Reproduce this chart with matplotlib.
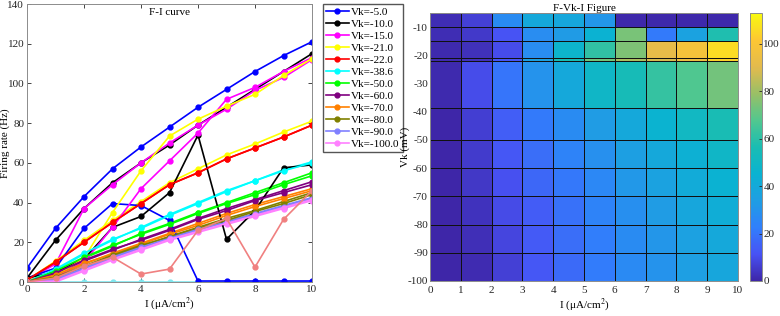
import numpy as np
import matplotlib
matplotlib.use("Agg")
import matplotlib.pyplot as plt
from matplotlib.colors import LinearSegmentedColormap

plt.rcParams['font.family'] = ['Liberation Serif', 'DejaVu Serif']
plt.rcParams['mathtext.fontset'] = 'stix'
plt.rcParams['axes.unicode_minus'] = False

# stimulus current (uA/cm^2) and Vk values (mV)
current = [0, 1, 2, 3, 4, 5, 6, 7, 8, 9, 10]
vk_values = [-5.0, -10.0, -15.0, -21.0, -22.0, -38.6, -50.0, -60.0, -70.0, -80.0, -90.0, -100.0]
line_colors = ['#0000ff', '#000000', '#ff00ff', '#ffff00', '#ff0000', '#00ffff',
               '#00ff00', '#800080', '#ff8000', '#808000', '#8080ff', '#ff80ff']

# first run (shown in legend)
rate_a_m5 = [7, 27, 43, 57, 68, 78, 88, 97, 106, 114, 121]
rate_a_m10 = [2, 21, 37, 50, 60, 69, 79, 88, 97, 106, 115]
rate_a_m15 = [1, 9, 37, 49, 60, 70, 79, 87, 96.5, 103, 112]
rate_a_m21 = [1, 10.5, 21, 31, 40.5, 50, 57, 64, 69.5, 75.5, 81]
rate_a_m22 = [1, 10, 20, 30, 39.5, 49, 55, 62, 67.5, 73, 79]
rate_a_m38 = [0, 6, 14, 21, 27.5, 34, 40, 46, 51, 56.5, 60.5]
rate_a_m50 = [0, 5, 12, 18, 24.5, 29.5, 35, 40, 45, 50, 55]
rate_a_m60 = [0, 4, 10.5, 16, 21.5, 26.5, 32, 37, 41.5, 46, 50.5]
rate_a_m70 = [0, 3, 9, 14.5, 19.5, 24.5, 29.5, 34.5, 39, 43, 47]
rate_a_m80 = [0, 2, 7.5, 13, 18, 23, 27.5, 32, 36, 40.5, 45]
rate_a_m90 = [0, 1, 6.5, 12, 17, 21.5, 26, 30.5, 34.5, 38.5, 42.5]
rate_a_m100 = [0, 0, 5.5, 11, 16, 21, 25, 29, 33, 37, 41]

# second run (used for the F-Vk-I map)
rate_b_m5 = [2, 7, 27, 39.5, 38.5, 31, 0.5, 0.5, 0.5, 0.5, 0.5]
rate_b_m10 = [2, 5, 11.5, 27.5, 33, 45, 74, 21.5, 36, 57.5, 59]
rate_b_m15 = [1, 3, 10, 27.5, 47, 61, 75, 92, 98, 106, 113]
rate_b_m21 = [1, 3, 12, 35, 56, 73.5, 82, 88.5, 94.5, 104, 112.5]
rate_b_m22 = [1, 10, 20, 30, 39.5, 49, 55, 62, 67.5, 73, 79]
rate_b_m38 = [0, 6.5, 14.5, 21.5, 27, 33.5, 39.5, 45.5, 51, 56, 60]
rate_b_m50 = [0, 5.5, 12.5, 18.5, 24, 29, 34.5, 39.5, 44, 49, 53.5]
rate_b_m60 = [0, 4.5, 11, 16.5, 21, 26, 31.5, 36, 41, 45, 49]
rate_b_m70 = [0, 3.5, 9.5, 14, 19, 24, 28.5, 33.5, 38, 42, 46]
rate_b_m80 = [0, 2.5, 8, 13.5, 18.5, 22.5, 27, 31, 35.5, 39.5, 44]
rate_b_m90 = [0, 1.5, 7, 12.5, 17.5, 22, 26.5, 30, 34, 38, 42]
rate_b_m100 = [0, 0.5, 6, 11.5, 16.5, 21.5, 25.5, 29.5, 33.5, 37.5, 41.5]

# extra traces
rate_extra_salmon = [0, 2, 8, 12.5, 4, 6.5, 26, 32, 7.5, 31.5, 46]
rate_extra_cyan = [0, 0, 0, 0, 0, 0, 0, 0, 0, 0, 0]

rates_a = [rate_a_m5, rate_a_m10, rate_a_m15, rate_a_m21, rate_a_m22, rate_a_m38,
           rate_a_m50, rate_a_m60, rate_a_m70, rate_a_m80, rate_a_m90, rate_a_m100]
rates_b = [rate_b_m5, rate_b_m10, rate_b_m15, rate_b_m21, rate_b_m22, rate_b_m38,
           rate_b_m50, rate_b_m60, rate_b_m70, rate_b_m80, rate_b_m90, rate_b_m100]

# parula-like colormap
parula = LinearSegmentedColormap.from_list('parula', [
    (0.00, (0.242, 0.150, 0.660)),
    (0.10, (0.281, 0.323, 0.958)),
    (0.20, (0.190, 0.500, 0.985)),
    (0.30, (0.120, 0.620, 0.890)),
    (0.40, (0.040, 0.700, 0.820)),
    (0.50, (0.100, 0.740, 0.700)),
    (0.60, (0.320, 0.780, 0.560)),
    (0.70, (0.600, 0.750, 0.400)),
    (0.80, (0.890, 0.730, 0.300)),
    (0.90, (0.990, 0.780, 0.200)),
    (1.00, (0.976, 0.983, 0.054))])

fig = plt.figure(figsize=(7.8, 3.16), dpi=100)
ax1 = fig.add_axes([27/780, 34/316, 285/780, 278/316])
ax2 = fig.add_axes([430/780, 35/316, 308/780, 268/316])
cax = fig.add_axes([750/780, 35/316, 12/780, 268/316])

axis_grey = '#262626'
fs = 8

# ---- F-I curves
handles = []
ax1.plot(current, rate_extra_cyan, '-o', color='#7fe6ee', lw=1.2, ms=3.5)
for vk, rates, c in zip(vk_values, rates_a, line_colors):
    h, = ax1.plot(current, rates, '-o', color=c, lw=1.2, ms=3.5, label='Vk=%.1f' % vk)
    handles.append(h)
for rates, c in zip(rates_b, line_colors):
    ax1.plot(current, rates, '-o', color=c, lw=1.2, ms=3.5)
ax1.plot(current, rate_extra_salmon, '-o', color='#f08080', lw=1.2, ms=3.5)

ax1.set_xlim(0, 10)
ax1.set_ylim(0, 140)
ax1.set_xticks(range(0, 11, 2))
ax1.set_yticks(range(0, 141, 20))
ax1.tick_params(direction='in', length=3, labelsize=fs, colors=axis_grey,
                top=True, right=True, width=0.6, pad=2)
for s in ax1.spines.values():
    s.set_color('#8c8c8c')
    s.set_linewidth(0.7)
ax1.set_xlabel('I (μA/cm$^2$)', fontsize=fs, labelpad=1)
ax1.set_ylabel('Firing rate (Hz)', fontsize=fs)
ax1.yaxis.set_label_coords(-0.058, 0.5)
ax1.text(0.5, 0.985, 'F-I curve', transform=ax1.transAxes, ha='center', va='top', fontsize=fs)

ax1.legend(handles=handles, loc='upper left', bbox_to_anchor=(323/780, 1 - 4/316),
           bbox_transform=fig.transFigure, fontsize=fs, frameon=True, fancybox=False,
           edgecolor='#555555', framealpha=1, handlelength=2.0, handletextpad=0.2,
           labelspacing=0.2, borderpad=0.3, borderaxespad=0)

# ---- F-Vk-I map
Z = np.array(rates_b)
mesh = ax2.pcolormesh(current, vk_values, Z[:-1, :-1], cmap=parula, shading='flat',
                      vmin=Z.min(), vmax=Z.max(), edgecolors='#111111', linewidth=0.6)
ax2.set_xlim(0, 10)
ax2.set_ylim(-100, -5)
ax2.set_xticks(range(0, 11))
ax2.set_yticks(range(-100, -9, 10))
ax2.tick_params(length=0, labelsize=fs, colors=axis_grey)
ax2.tick_params(axis='y', pad=1.5)
for s in ax2.spines.values():
    s.set_color('#8c8c8c')
    s.set_linewidth(0.7)
ax2.set_xlabel('I (μA/cm$^2$)', fontsize=fs, labelpad=1)
ax2.set_ylabel('Vk (mV)', fontsize=fs)
ax2.yaxis.set_label_coords(-0.064, 0.5)
ax2.set_title('F-Vk-I Figure', fontsize=fs, pad=1)

cb = fig.colorbar(mesh, cax=cax)
cb.set_ticks(range(0, 101, 20))
cb.ax.tick_params(direction='in', length=2, labelsize=fs, colors=axis_grey, width=0.6, pad=1)
cb.outline.set_edgecolor('#8c8c8c')
cb.outline.set_linewidth(0.7)

fig.savefig('out.png', dpi=100)
